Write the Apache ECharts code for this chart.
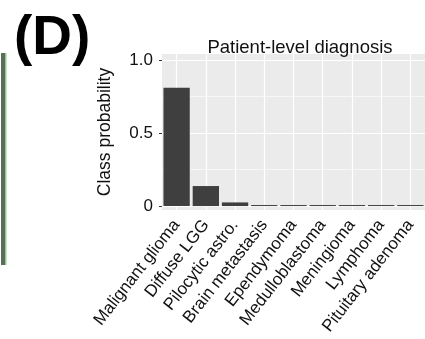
<!DOCTYPE html>
<html>
<head>
<meta charset="utf-8">
<script src="https://cdn.jsdelivr.net/npm/echarts@6/dist/echarts.min.js"></script>
<style>html,body{margin:0;padding:0;background:#fff;}#c{width:425px;height:339px;}</style>
</head>
<body>
<div id="c"></div>
<script>
var categories = ['Malignant glioma','Diffuse LGG','Pilocytic astro.','Brain metastasis','Ependymoma','Medulloblastoma','Meningioma','Lymphoma','Pituitary adenoma'];
var probabilities = [0.81, 0.137, 0.025, 0.007, 0.007, 0.007, 0.007, 0.007, 0.007];
var yTickValues = [0, 0.5, 1];
var yTickLabels = ['0', '0.5', '1.0'];
var yMinorValues = [0.25, 0.75];

var chart = echarts.init(document.getElementById('c'), null, {renderer:'canvas'});
var FONT = 'Liberation Sans';
var gridLines = [];
yTickValues.forEach(function(v){ gridLines.push({yAxis: v, lineStyle:{width:1.2}}); });
yMinorValues.forEach(function(v){ gridLines.push({yAxis: v, lineStyle:{width:0.6}}); });
categories.forEach(function(c){ gridLines.push({xAxis: c, lineStyle:{width:1.2}}); });

chart.setOption({
  animation: false,
  title: {
    text: 'Patient-level diagnosis',
    left: 295, top: 33, textAlign: 'center',
    textStyle: {fontFamily: FONT, fontSize: 18.5, fontWeight: 'normal', color: '#111'}
  },
  graphic: [
    {type:'text', left: 14, top: 11, style:{text:'(D)', fontFamily: FONT, fontSize: 55, fontWeight:'bold', fill:'#000'}},
    {type:'rect', shape:{x:1, y:53, width:4, height:212}, style:{fill:'#5f6b5c'}},
    {type:'rect', shape:{x:5, y:53, width:1.5, height:212}, style:{fill:'#8ccf86'}}
  ],
  grid: {left: 162, top: 54, width: 267, height: 156, show: true, backgroundColor: '#EBEBEB', borderWidth: 0, containLabel: false},
  xAxis: {
    type: 'category', data: categories,
    axisLine: {show: false},
    axisTick: {show: true, alignWithLabel: true, length: 3, lineStyle:{color:'#333'}},
    axisLabel: {rotate: 52, margin: 12, interval: 0, fontFamily: FONT, fontSize: 17, color: '#111'},
    splitLine: {show: false}
  },
  yAxis: {
    type: 'value', min: -0.027, max: 1.041,
    name: 'Class probability', nameLocation: 'middle', nameGap: 48, nameRotate: 90,
    nameTextStyle: {fontFamily: FONT, fontSize: 17.5, color: '#111'},
    axisLine: {show: false},
    axisTick: {show: true, length: 3, customValues: yTickValues, lineStyle:{color:'#333'}},
    axisLabel: {customValues: yTickValues, margin: 9, fontFamily: FONT, fontSize: 17, color: '#111',
      formatter: function(v){ var i = yTickValues.indexOf(v); return i >= 0 ? yTickLabels[i] : ''; }},
    splitLine: {show: false}
  },
  series: [{
    type: 'scatter', data: [], z: 1, silent: true,
    markLine: {silent: true, z: 1, symbol: ['none','none'], label:{show:false}, lineStyle:{color:'#fff', type:'solid'}, data: gridLines, animation:false}
  }, {
    type: 'bar', data: probabilities, barCategoryGap: '10%',
    itemStyle: {color: '#3f3f3f'},
    z: 3
  }]
});
</script>
</body>
</html>
